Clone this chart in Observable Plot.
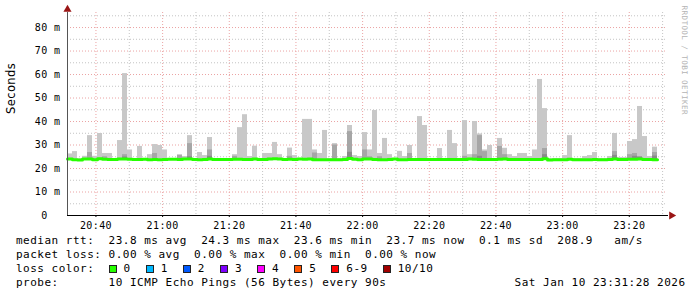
<!DOCTYPE html>
<html><head><meta charset="utf-8">
<script src="https://cdn.jsdelivr.net/npm/d3@7"></script>
<script src="https://cdn.jsdelivr.net/npm/@observablehq/plot@0.6"></script>
<style>
html,body{margin:0;padding:0;background:#fff;}
#chart{width:697px;height:297px;position:relative;overflow:hidden;background:#fff;}
#chart svg{position:absolute;left:0;top:0;}
#chart svg text{letter-spacing:0.4px;}
#legend{position:absolute;left:16px;top:234px;font-family:"DejaVu Sans Mono",monospace;font-size:11px;letter-spacing:0.5px;line-height:14px;color:#000;}
#legend .ln{white-space:pre;height:14px;}
#legend .row{display:flex;align-items:center;height:14px;white-space:pre;}
.sw{display:inline-block;width:6px;height:6px;border:1px solid #222;margin-right:7px;flex:none;}
.it{display:flex;align-items:center;margin-right:15px;}
</style></head>
<body><div id="chart"><div id="legend"></div></div>
<script>
// ---- data ----
const startTime = new Date(2026, 0, 10, 20, 31, 28);
const endTime = new Date(2026, 0, 10, 23, 31, 28);
const stepSeconds = 90;

// max ping (top of light smoke), ms
const maxRtt = [
26.2,27.2,24.2,25.2,34.0,25.2,34.9,26.4,26.4,24.2,
31.9,60.4,27.9,24.2,29.4,24.2,25.9,30.2,29.8,27.9,
24.2,24.2,25.9,25.1,34.0,24.2,26.8,25.5,33.2,24.2,
24.2,24.2,24.2,25.9,37.4,42.9,25.1,29.5,24.2,26.4,
26.4,31.1,25.9,24.2,28.7,25.5,24.2,40.9,40.9,27.9,
26.4,36.2,24.2,30.6,24.2,25.1,38.3,25.5,25.1,35.3,
27.9,44.7,26.4,32.8,25.9,24.2,27.3,25.1,29.8,24.2,
42.1,38.3,24.2,24.2,28.5,24.2,36.2,30.6,24.2,40.4,
25.9,40.0,34.7,27.9,29.8,24.2,32.8,28.6,25.9,25.1,
26.4,26.4,25.1,27.9,57.9,45.5,24.2,24.2,24.2,25.5,
34.0,24.2,24.2,25.1,25.5,26.8,24.2,24.2,25.1,34.9,
24.7,24.7,31.5,32.3,46.4,33.6,25.1,29.1];

// upper edge of the darker smoke band (null = hidden under the median line)
const midRtt = [
null,null,null,null,26.8,null,null,25.0,null,null,
null,25.9,null,null,null,null,null,26.4,null,null,
null,null,25.5,null,30.6,null,null,null,27.9,null,
null,null,null,25.2,null,null,null,null,null,null,
null,null,null,null,25.2,null,null,null,null,26.6,
null,null,null,30.0,null,null,35.7,null,null,27.9,
25.0,null,25.0,null,null,null,null,null,26.4,null,
null,null,null,null,null,null,null,null,null,25.2,
null,25.9,34.0,27.2,null,null,29.4,25.9,null,null,
null,null,null,null,null,28.5,null,null,null,null,
null,null,null,null,null,null,null,null,null,27.2,
null,null,25.9,26.4,24.9,null,null,26.8];

// upper edge of the darkest smoke band
const lowRtt = [
null,null,null,null,null,null,null,null,null,null,
null,24.9,null,null,null,null,null,null,null,null,
null,null,null,null,25.0,null,null,null,25.2,null,
null,null,null,null,null,null,null,null,null,null,
null,null,null,null,null,null,null,null,null,null,
null,null,null,null,null,null,26.9,null,null,null,
null,null,null,null,null,null,null,null,null,null,
null,null,null,null,null,null,null,null,null,null,
null,null,25.2,null,null,null,null,null,null,null,
null,null,null,null,null,25.9,null,null,null,null,
null,null,null,null,null,null,null,null,null,25.6,
null,null,null,25.2,24.9,null,null,25.3];

// median rtt per step, ms (loss 0 everywhere)
const medianRtt = [
24.1,23.7,23.6,24.0,24.1,23.7,24.2,23.9,23.8,23.8,
24.0,24.1,23.9,23.8,23.8,23.9,23.7,23.8,23.7,23.8,
23.9,23.9,23.8,24.0,24.0,23.8,23.7,23.8,24.0,23.8,
23.8,23.8,23.8,23.9,23.9,23.8,23.8,24.0,23.8,23.8,
24.0,24.2,24.0,23.8,23.9,23.8,24.0,23.9,24.1,23.7,
23.7,23.7,23.7,23.7,23.7,23.8,24.3,23.9,23.7,24.0,
24.0,23.8,23.7,23.7,23.8,24.0,23.7,23.7,23.8,23.8,
23.8,23.8,23.8,23.8,23.8,23.8,23.8,23.8,23.8,23.8,
24.0,23.9,23.8,23.8,23.8,23.8,23.9,24.0,23.8,23.8,
23.8,23.8,23.8,23.8,23.8,24.2,23.6,23.7,23.7,23.7,
23.9,23.7,23.7,23.7,23.7,23.8,23.7,23.7,23.8,24.0,
23.8,23.8,23.9,23.9,24.0,23.8,23.8,23.7];

// axis / grid ticks
const yTicks = [0,10,20,30,40,50,60,70,80];
const yMinorTicks = [5,15,25,35,45,55,65,75,85];
const xTickLabels = ["20:40","21:00","21:20","21:40","22:00","22:20","22:40","23:00","23:20"];
const xMinorLabels = ["20:50","21:10","21:30","21:50","22:10","22:30","22:50","23:10","23:30"];

// legend
const statsLine1 = "median rtt:  23.8 ms avg  24.3 ms max  23.6 ms min  23.7 ms now  0.1 ms sd  208.9   am/s";
const statsLine2 = "packet loss: 0.00 % avg  0.00 % max  0.00 % min  0.00 % now";
const lossTitle = "loss color:  ";
const lossLabels = ["0","1","2","3","4","5","6-9","10/10"];
const lossColors = ["#26ff00","#00b8ff","#0059ff","#7e00ff","#ff00ff","#ff5500","#ff0000","#a10000"];
const probeText = "probe:       10 ICMP Echo Pings (56 Bytes) every 90s";
const dateText = "Sat Jan 10 23:31:28 2026";
const medianColor = "#26ff00";

// ---- build ----
const toTime = s => { const [h, m] = s.split(":").map(Number); return new Date(2026, 0, 10, h, m, 0); };
const xMajor = xTickLabels.map(toTime);
const xMinor = xMinorLabels.map(toTime);

const rows = maxRtt.map((mx, i) => ({
  t1: new Date(+startTime + i * stepSeconds * 1000),
  t2: new Date(+startTime + (i + 1) * stepSeconds * 1000),
  med: medianRtt[i], max: mx, mid: midRtt[i], low: lowRtt[i]
}));
const medLine = rows.map(d => ({t: d.t1, med: d.med}));
medLine.push({t: rows[rows.length - 1].t2, med: rows[rows.length - 1].med});

const majorGrid = "#eba3a3", minorGrid = "#c4c4c4", arrowColor = "#9a1515";

const plot = Plot.plot({
  width: 697, height: 233,
  marginLeft: 67, marginRight: 30, marginTop: 12, marginBottom: 18,
  x: {type: "time", domain: [startTime, endTime]},
  y: {domain: [0, 86.4]},
  style: {background: "transparent", fontFamily: "'DejaVu Sans Mono', monospace", fontSize: "10px", color: "#000"},
  marks: [
    Plot.ruleY(yMinorTicks, {stroke: minorGrid, strokeDasharray: "1,2"}),
    Plot.ruleX(xMinor.filter(t => t < endTime), {stroke: minorGrid, strokeDasharray: "1,2"}),
    Plot.ruleY(yTicks.filter(v => v > 0), {stroke: majorGrid, strokeDasharray: "1,2"}),
    Plot.ruleX(xMajor, {stroke: majorGrid, strokeDasharray: "1,2"}),
    Plot.rect(rows, {x1: "t1", x2: "t2", y1: "med", y2: "max", fill: "#c8c8c8"}),
    Plot.rect(rows.filter(d => d.mid != null), {x1: "t1", x2: "t2", y1: "med", y2: "mid", fill: "#a6a6a6"}),
    Plot.rect(rows.filter(d => d.low != null), {x1: "t1", x2: "t2", y1: "med", y2: "low", fill: "#8a8a8a"}),
    Plot.line(medLine, {x: "t", y: "med", curve: "step-after", stroke: medianColor, strokeWidth: 3}),
    Plot.axisY({ticks: yTicks, tickSize: 0, tickPadding: 7, tickFormat: d => d === 0 ? "0\u00a0\u00a0" : `${d} m`, label: null, fill: "#000"}),
    Plot.axisX({ticks: xMajor, tickSize: 2, tickPadding: 4, tickFormat: d3.timeFormat("%H:%M"), label: null, fill: "#000"}),
    Plot.frame({anchor: "left", stroke: "#555"}),
    Plot.frame({anchor: "bottom", stroke: "#000"}),
    Plot.dot([0], {frameAnchor: "top-left", symbol: "triangle", r: 3, fill: arrowColor, stroke: "none", dy: -3}),
    Plot.dot([0], {frameAnchor: "bottom-right", symbol: "triangle", r: 3, fill: arrowColor, stroke: "none", rotate: 90, dx: 4}),
    Plot.text(["Seconds"], {frameAnchor: "left", rotate: -90, dx: -56, fontFamily: "'DejaVu Sans', sans-serif", fontSize: 11.5, fill: "#000"}),
    Plot.text(["RRDTOOL / TOBI OETIKER"], {frameAnchor: "top-right", rotate: 90, textAnchor: "start", dx: 20, dy: -7, fontSize: 7.6, fill: "#b4b4b4"})
  ]
});
const chart = document.getElementById("chart");
chart.insertBefore(plot, chart.firstChild);

// legend text
const legend = document.getElementById("legend");
const mk = (tag, cls, txt) => { const e = document.createElement(tag); if (cls) e.className = cls; if (txt != null) e.textContent = txt; return e; };
legend.appendChild(mk("div", "ln", statsLine1));
legend.appendChild(mk("div", "ln", statsLine2));
const row = mk("div", "row");
row.appendChild(mk("span", null, lossTitle));
lossLabels.forEach((l, i) => {
  const it = mk("span", "it");
  const sw = mk("span", "sw");
  sw.style.background = lossColors[i];
  it.appendChild(sw);
  it.appendChild(mk("span", null, l));
  row.appendChild(it);
});
legend.appendChild(row);
const pad = 70 - probeText.length;
legend.appendChild(mk("div", "ln", probeText + " ".repeat(pad) + dateText));
</script></body></html>
